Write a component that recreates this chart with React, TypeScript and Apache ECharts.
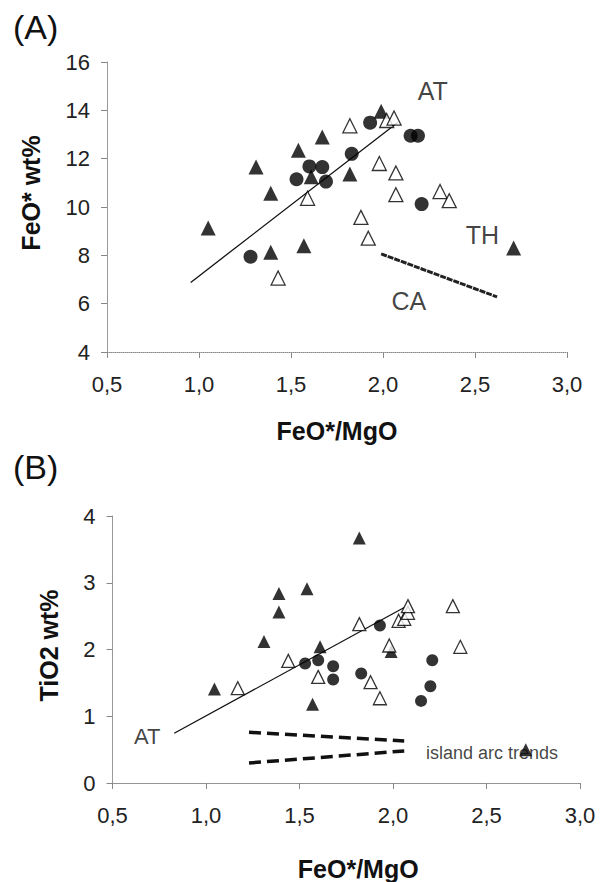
import React, { useEffect, useRef } from "react";
import * as echarts from "echarts";

const FONT = "'Liberation Sans', Arial, Helvetica, sans-serif";

// Panel A: FeO* wt% vs FeO*/MgO
const aFilledTri: number[][] = [
  [1.05, 9.13], [1.31, 11.66], [1.39, 10.57], [1.39, 8.13], [1.54, 12.35],
  [1.57, 8.4], [1.67, 12.9], [1.61, 11.25], [1.82, 11.37], [1.99, 13.96], [2.71, 8.3],
];
const aOpenTri: number[][] = [
  [1.43, 7.06], [1.59, 10.36], [1.82, 13.36], [1.88, 9.57], [1.92, 8.71], [1.98, 11.8],
  [2.02, 13.58], [2.06, 13.68], [2.07, 11.41], [2.07, 10.51], [2.31, 10.64], [2.36, 10.26],
];
const aCircle: number[][] = [
  [1.28, 7.94], [1.53, 11.15], [1.6, 11.68], [1.67, 11.65], [1.69, 11.05],
  [1.83, 12.2], [1.93, 13.49], [2.15, 12.95], [2.19, 12.95], [2.21, 10.12],
];
const aTrendAT: number[][] = [[0.955, 6.88], [2.08, 13.5]];
const aTrendCA: number[][] = [[1.99, 8.06], [2.62, 6.28]];
const aLabels: (number | string)[][] = [[2.27, 14.82, "AT"], [2.54, 8.86, "TH"], [2.14, 6.1, "CA"]];

// Panel B: TiO2 wt% vs FeO*/MgO
const bFilledTri: number[][] = [
  [1.045, 1.41], [1.31, 2.12], [1.39, 2.84], [1.39, 2.56], [1.54, 2.91],
  [1.57, 1.18], [1.61, 2.04], [1.82, 3.67], [1.99, 1.97], [2.71, 0.5],
];
const bOpenTri: number[][] = [
  [1.17, 1.42], [1.44, 1.83], [1.6, 1.59], [1.82, 2.38], [1.88, 1.51], [1.93, 1.27],
  [1.98, 2.06], [2.03, 2.43], [2.06, 2.46], [2.08, 2.55], [2.08, 2.65], [2.32, 2.65], [2.36, 2.04],
];
const bCircle: number[][] = [
  [1.53, 1.79], [1.6, 1.84], [1.68, 1.75], [1.68, 1.55], [1.83, 1.64],
  [1.93, 2.36], [2.15, 1.23], [2.2, 1.45], [2.21, 1.84],
];
const bTrendAT: number[][] = [[0.83, 0.745], [2.06, 2.63]];
const bArcUpper: number[][] = [[1.23, 0.76], [2.06, 0.63]];
const bArcLower: number[][] = [[1.23, 0.3], [2.06, 0.48]];
const bLabels: (number | string)[][] = [[0.686, 0.69, "AT"]];
const bLabelsLeft: (number | string)[][] = [[2.176, 0.445, "island arc trends"]];

const xTitle = "FeO*/MgO";
const yTitleA = "FeO* wt%";
const yTitleB = "TiO2 wt%";

export default function App() {
  const ref = useRef<HTMLDivElement>(null);
  useEffect(() => {
    if (!ref.current) return;
    const chart = echarts.init(ref.current, undefined, { renderer: "svg" });

    const xAxisBase = (gridIndex: number, nameGap: number, padLeft: number) => ({
      type: "value",
      gridIndex,
      min: 0.5,
      max: 3.0,
      interval: 0.5,
      name: xTitle,
      nameLocation: "middle",
      nameGap,
      nameTextStyle: {
        fontFamily: FONT, fontSize: 25, fontWeight: "bold", color: "#111",
        padding: [0, 0, 0, padLeft],
      },
      axisLine: { show: true, lineStyle: { color: "#888", width: 1, type: "dotted" } },
      axisTick: { show: true, length: 6, inside: false, lineStyle: { color: "#888" } },
      axisLabel: {
        fontFamily: FONT, fontSize: 22, color: "#222", margin: 21,
        formatter: (v: number) => v.toFixed(1).replace(".", ","),
      },
      splitLine: { show: false },
    });

    const yAxisBase = (gridIndex: number, min: number, max: number, interval: number, name: string, nameGap: number, padLeft: number) => ({
      type: "value",
      gridIndex,
      min, max, interval,
      name,
      nameLocation: "middle",
      nameGap,
      nameRotate: 90,
      nameTextStyle: {
        fontFamily: FONT, fontSize: 25, fontWeight: "bold", color: "#111",
        padding: [0, 0, 0, padLeft],
      },
      axisLine: { show: true, lineStyle: { color: "#999", width: 1 } },
      axisTick: { show: true, length: 6, inside: false, lineStyle: { color: "#888" } },
      axisLabel: { fontFamily: FONT, fontSize: 22, color: "#222", margin: 17 },
      splitLine: { show: false },
    });

    const filled = (data: number[][], xi: number, size: number) => ({
      type: "scatter", xAxisIndex: xi, yAxisIndex: xi, data, symbol: "triangle",
      symbolSize: size, itemStyle: { color: "#000" }, z: 5,
    });
    const open = (data: number[][], xi: number, size: number) => ({
      type: "scatter", xAxisIndex: xi, yAxisIndex: xi, data, symbol: "triangle",
      symbolSize: size, itemStyle: { color: "#fff", borderColor: "#000", borderWidth: 1.3 }, z: 5,
    });
    const circ = (data: number[][], xi: number, size: number) => ({
      type: "scatter", xAxisIndex: xi, yAxisIndex: xi, data, symbol: "circle",
      symbolSize: size, itemStyle: { color: "#000" }, z: 5,
    });
    const line = (data: number[][], xi: number, lineStyle: any) => ({
      type: "line", xAxisIndex: xi, yAxisIndex: xi, data, symbol: "none",
      showSymbol: false, lineStyle, z: 4,
    });
    const labels = (data: (number | string)[][], xi: number, fontSize: number, align: string) => ({
      type: "scatter", xAxisIndex: xi, yAxisIndex: xi, data, symbolSize: 2,
      itemStyle: { color: "rgba(0,0,0,0)" },
      label: {
        show: true, position: "inside", align, verticalAlign: "middle",
        fontFamily: FONT, fontSize, color: "#111", textBorderWidth: 0,
        formatter: (p: any) => p.value[2],
      },
      z: 6,
    });

    chart.setOption({
      animation: false,
      backgroundColor: "#fff",
      grid: [
        { left: 107, top: 62, width: 460, height: 290 },
        { left: 112.5, top: 516, width: 467.5, height: 267 },
      ],
      xAxis: [xAxisBase(0, 66, 0), xAxisBase(1, 73, 24)],
      yAxis: [
        yAxisBase(0, 4, 16, 2, yTitleA, 64, 28),
        yAxisBase(1, 0, 4, 1, yTitleB, 51, 8),
      ],
      graphic: [
        { type: "text", left: 13, top: 10, style: { text: "(A)", fontFamily: FONT, fontSize: 34, fill: "#111" } },
        { type: "text", left: 13, top: 450, style: { text: "(B)", fontFamily: FONT, fontSize: 34, fill: "#111" } },
      ],
      series: [
        line(aTrendAT, 0, { color: "#111", width: 1.3 }),
        line(aTrendCA, 0, { color: "#222", width: 3, type: [6, 1] }),
        filled(aFilledTri, 0, 15),
        open(aOpenTri, 0, 14),
        circ(aCircle, 0, 14),
        labels(aLabels, 0, 25, "center"),

        line(bTrendAT, 1, { color: "#111", width: 1.3 }),
        line(bArcUpper, 1, { color: "#111", width: 3.5, type: [12, 6] }),
        line(bArcLower, 1, { color: "#111", width: 3.5, type: [12, 6] }),
        filled(bFilledTri, 1, 13),
        open(bOpenTri, 1, 13),
        circ(bCircle, 1, 12),
        labels(bLabels, 1, 22, "center"),
        labels(bLabelsLeft, 1, 18, "left"),
      ],
    });
    return () => chart.dispose();
  }, []);
  return (
    <div
      ref={ref}
      style={{ position: "fixed", left: 0, top: 0, width: 601, height: 882, background: "#fff" }}
    />
  );
}
